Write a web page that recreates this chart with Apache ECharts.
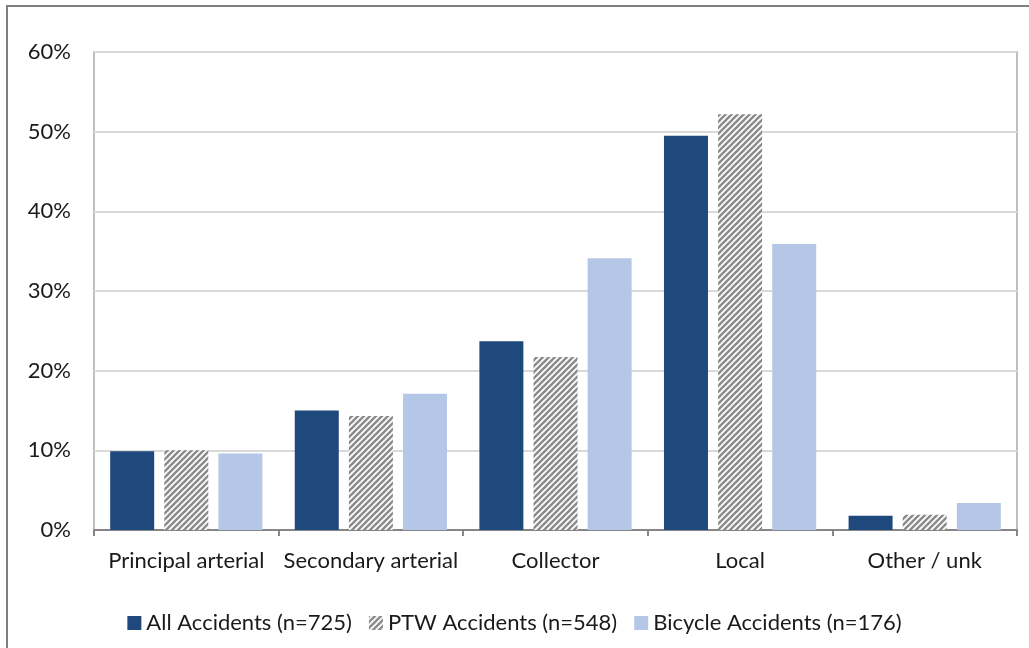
<!DOCTYPE html>
<html>
<head>
<meta charset="utf-8">
<script src="https://cdn.jsdelivr.net/npm/echarts@6/dist/echarts.min.js"></script>
<style>
  html, body { margin: 0; padding: 0; background: #fff; }
  #chart { width: 1029px; height: 648px; }
</style>
</head>
<body>
<div id="chart"></div>
<script>
// Road type categories and share of accidents (%) per group
const categories = ['Principal arterial', 'Secondary arterial', 'Collector', 'Local', 'Other / unk'];
const allAccidents = [9.9, 15.0, 23.7, 49.5, 1.8];
const ptwAccidents = [10.0, 14.3, 21.7, 52.2, 1.9];
const bicycleAccidents = [9.6, 17.1, 34.1, 35.9, 3.4];
const seriesNames = ['All Accidents (n=725)', 'PTW Accidents (n=548)', 'Bicycle Accidents (n=176)'];

// Diagonal stripe fill used for the PTW bars
function makeStripes() {
  const size = 6;
  const c = document.createElement('canvas');
  c.width = size; c.height = size;
  const ctx = c.getContext('2d');
  ctx.fillStyle = '#ffffff';
  ctx.fillRect(0, 0, size, size);
  ctx.strokeStyle = '#8a8a8a';
  ctx.lineWidth = 2.4;
  for (let k = -1; k <= 1; k++) {
    ctx.beginPath();
    ctx.moveTo(k * size - 1, size + 1);
    ctx.lineTo(k * size + size + 1, -1);
    ctx.stroke();
  }
  return c;
}
const stripes = { image: makeStripes(), repeat: 'repeat' };

const font = "Lato, 'Open Sans', sans-serif";
const fs = 22;
const chart = echarts.init(document.getElementById('chart'), null, { renderer: 'canvas' });

chart.setOption({
  backgroundColor: '#ffffff',
  animation: false,
  textStyle: { fontFamily: font },
  graphic: [
    {
      type: 'rect',
      shape: { x: 7, y: 6, width: 1040, height: 660 },
      style: { fill: 'none', stroke: '#7f7f7f', lineWidth: 2 },
      silent: true, z: -1
    },
    {
      type: 'rect',
      shape: { x: 94, y: 52, width: 923, height: 478 },
      style: { fill: 'none', stroke: '#bfbfbf', lineWidth: 2 },
      silent: true, z: 0
    }
  ],
  grid: { left: 94, right: 12, top: 52, bottom: 118, containLabel: false },
  legend: {
    bottom: 9,
    left: 'center',
    icon: 'rect',
    itemWidth: 14,
    itemHeight: 14,
    itemGap: 17,
    textStyle: { fontSize: fs, color: '#1a1a1a', fontFamily: font },
    data: seriesNames
  },
  xAxis: {
    type: 'category',
    data: categories,
    axisLine: { lineStyle: { color: '#868686', width: 2 } },
    axisTick: { show: true, length: 6, lineStyle: { color: '#868686', width: 2 } },
    axisLabel: { interval: 0, fontSize: fs, color: '#1a1a1a', margin: 20, fontFamily: font }
  },
  yAxis: {
    type: 'value',
    min: 0, max: 60, interval: 10,
    axisLine: { show: false },
    axisTick: { show: false },
    axisLabel: { formatter: '{value}%', fontSize: fs, color: '#1a1a1a', margin: 23, fontFamily: font },
    splitLine: { lineStyle: { color: '#d9d9d9', width: 2 } }
  },
  series: [
    {
      name: seriesNames[0], type: 'bar', data: allAccidents,
      barWidth: 44, barGap: '23%',
      itemStyle: { color: '#1f497d' }
    },
    {
      name: seriesNames[1], type: 'bar', data: ptwAccidents,
      barWidth: 44, barGap: '23%',
      itemStyle: { color: stripes }
    },
    {
      name: seriesNames[2], type: 'bar', data: bicycleAccidents,
      barWidth: 44, barGap: '23%',
      itemStyle: { color: '#b4c7e7' }
    }
  ]
});
</script>
</body>
</html>
